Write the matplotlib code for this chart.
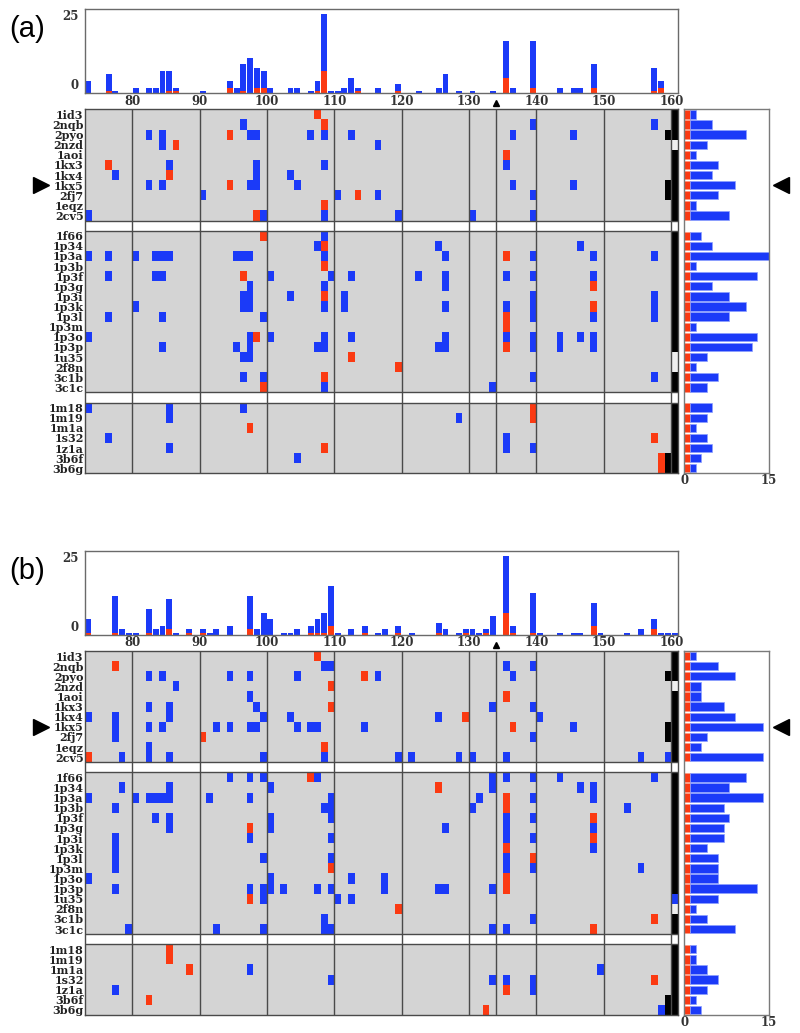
import matplotlib
matplotlib.use('Agg')
import matplotlib.pyplot as plt
import numpy as np
from matplotlib.colors import ListedColormap, BoundaryNorm
from matplotlib import transforms
from matplotlib.lines import Line2D

BLUE = '#1b3af8'
RED = '#fb3a12'
GRAY = '#d4d4d4'
GRID = '#4a4a4a'
LIGHT = '#eeeeee'
FONT = 'DejaVu Serif'

SEC1 = ['1id3', '2nqb', '2pyo', '2nzd', '1aoi', '1kx3', '1kx4', '1kx5', '2fj7', '1eqz', '2cv5']
SEC2 = ['1f66', '1p34', '1p3a', '1p3b', '1p3f', '1p3g', '1p3i', '1p3k', '1p3l', '1p3m',
        '1p3o', '1p3p', '1u35', '2f8n', '3c1b', '3c1c']
SEC3 = ['1m18', '1m19', '1m1a', '1s32', '1z1a', '3b6f', '3b6g']
MARKED_ROW = '1kx5'

RES_START, RES_END = 73, 161
TICKS = [80, 90, 100, 110, 120, 130, 140, 150, 160]
MARK_RES = 134

# ---------------- panel (a) ----------------
a_top_res = [73, 76, 77, 80, 82, 83, 84, 85, 86, 90, 94, 95, 96, 97, 98, 99, 100, 103, 104, 106,
             107, 108, 109, 110, 111, 112, 113, 116, 119, 122, 125, 126, 128, 130, 133, 135, 136,
             139, 143, 145, 146, 148, 157, 158]
a_top_total = [4, 6, 1, 2, 2, 2, 7, 7, 2, 1, 4, 2, 9, 11, 8, 7, 2, 2, 2, 1,
               4, 24, 1, 1, 2, 5, 2, 2, 3, 1, 2, 6, 1, 1, 1, 16, 2,
               16, 2, 2, 2, 9, 8, 4]
a_top_red = [0, 1, 0, 0, 0, 0, 0, 1, 1, 0, 2, 0, 1, 0, 2, 2, 0, 0, 0, 0,
             1, 7, 0, 0, 0, 0, 1, 0, 1, 0, 0, 0, 0, 0, 0, 5, 0,
             2, 0, 0, 0, 2, 1, 2]

a_blue = [
    [], [96, 139, 157], [82, 84, 97, 98, 106, 108, 112, 136, 145], [84, 116], [],
    [85, 98, 108, 135], [77, 98, 103], [82, 84, 97, 98, 104, 136, 145], [90, 110, 116, 139], [],
    [73, 99, 108, 119, 130, 139],
    [108], [107, 125, 146], [73, 76, 80, 83, 84, 85, 95, 96, 97, 108, 126, 139, 148, 157], [],
    [76, 83, 84, 100, 109, 112, 122, 126, 135, 139, 148], [97, 108, 126],
    [96, 97, 103, 111, 139, 157], [80, 96, 97, 108, 111, 126, 135, 139, 157],
    [76, 84, 99, 139, 148, 157], [], [73, 97, 100, 108, 112, 126, 135, 139, 143, 146, 148],
    [84, 95, 97, 107, 108, 125, 126, 139, 143, 148], [96, 97], [], [96, 99, 139, 157], [108, 133],
    [73, 85, 96], [85, 128], [], [76, 135], [85, 135, 139], [104], [],
]
a_red = [
    [107], [108], [94], [86], [135], [76], [85], [94], [113], [108], [98],
    [99], [108], [135], [108], [96], [148], [108], [148], [135], [135], [98], [135], [112], [119],
    [108], [99],
    [139], [139], [97], [157], [108], [158], [158],
]
a_black = [1, 1, 2, 0, 1, 1, 1, 2, 2, 1, 1,
           1, 1, 1, 1, 1, 1, 1, 1, 1, 1, 1, 1, 0, 0, 1, 1,
           1, 1, 1, 1, 1, 2, 2]
a_side_total = [2, 5, 11, 4, 2, 6, 5, 9, 6, 2, 8,
                3, 5, 16, 2, 13, 5, 8, 11, 8, 2, 13, 12, 4, 2, 6, 4,
                5, 4, 2, 4, 5, 3, 2]
a_side_red = [1] * 34

# ---------------- panel (b) ----------------
b_top_res = [73, 77, 78, 79, 80, 82, 83, 84, 85, 86, 88, 90, 91, 92, 94, 97, 98, 99, 100, 102,
             103, 104, 106, 107, 108, 109, 110, 112, 114, 116, 117, 119, 121, 125, 126, 128, 129,
             130, 131, 132, 133, 135, 136, 139, 140, 143, 145, 146, 148, 149, 153, 155, 157, 158,
             159, 160]
b_top_total = [5, 12, 2, 1, 1, 8, 2, 3, 11, 1, 2, 2, 1, 2, 3, 12, 2, 7, 5, 1,
               1, 2, 3, 5, 7, 15, 1, 2, 3, 1, 2, 3, 1, 4, 2, 1, 2,
               2, 1, 2, 6, 24, 3, 13, 1, 1, 1, 1, 10, 1, 1, 2, 5, 1,
               1, 1]
b_top_red = [1, 1, 0, 0, 0, 1, 0, 0, 2, 0, 1, 1, 0, 0, 0, 2, 0, 0, 0, 0,
             0, 0, 1, 1, 1, 3, 0, 0, 1, 0, 0, 1, 0, 1, 0, 0, 1,
             0, 0, 1, 0, 7, 1, 1, 0, 0, 0, 0, 3, 0, 0, 0, 2, 0,
             0, 0]

b_blue = [
    [], [108, 109, 135, 139], [82, 84, 94, 97, 104, 116, 136], [86], [97],
    [82, 85, 98, 133, 139], [73, 77, 85, 99, 103, 125, 140],
    [77, 82, 84, 92, 94, 97, 98, 104, 106, 107, 114, 145], [77, 139], [82],
    [78, 82, 85, 99, 108, 119, 121, 128, 130, 135, 155, 159],
    [94, 97, 99, 107, 133, 135, 139, 143, 157], [78, 85, 100, 133, 146, 148],
    [73, 80, 82, 83, 84, 85, 91, 97, 109, 131, 139, 148], [77, 108, 109, 130, 153],
    [83, 85, 100, 109, 135, 139], [85, 100, 126, 135, 148], [77, 97, 109, 135, 139], [77, 148],
    [77, 99, 109, 135], [77, 135, 139, 155], [73, 100, 112, 117],
    [77, 97, 99, 100, 102, 107, 109, 117, 125, 126, 133], [99, 110, 112, 160], [], [108, 139],
    [79, 92, 99, 108, 109, 133, 135],
    [], [], [97, 149], [109, 133, 135, 139], [77, 139], [], [158],
]
b_red = [
    [107], [77], [114], [109], [135], [109], [129], [136], [90], [108], [73],
    [106], [125], [135], [135], [148], [97], [148], [135], [139], [109], [135], [135], [97], [119],
    [157], [148],
    [85], [85], [88], [157], [135], [82], [132],
]
b_black = [1, 1, 2, 0, 1, 1, 1, 2, 2, 1, 1,
           1, 1, 1, 1, 1, 1, 1, 1, 1, 1, 1, 1, 1, 0, 1, 1,
           1, 1, 1, 1, 1, 2, 2]
b_side_total = [2, 6, 9, 3, 3, 7, 9, 14, 4, 3, 14,
                11, 8, 14, 7, 8, 7, 7, 4, 6, 6, 6, 13, 6, 2, 4, 9,
                2, 2, 4, 6, 4, 2, 3]
b_side_red = [1] * 34

# ---------------- layout helpers ----------------
W, H = 800, 1033
fig = plt.figure(figsize=(W / 100, H / 100), dpi=100)

NAMES = SEC1 + [None] + SEC2 + [None] + SEC3
NROWS = len(NAMES)
DATA_ROWS = [i for i, n in enumerate(NAMES) if n is not None]
GAP_ROWS = [i for i, n in enumerate(NAMES) if n is None]


def rect(x0, y0, x1, y1):
    return [x0 / W, (H - y1) / H, (x1 - x0) / W, (y1 - y0) / H]


cmap = ListedColormap([GRAY, BLUE, RED, 'black', LIGHT, 'white'])
norm = BoundaryNorm(np.arange(-0.5, 6.5, 1), cmap.N)


def draw_panel(dy, label, top_res, top_total, top_red, blue, red, black, side_total, side_red):
    # ---- top histogram ----
    axh = fig.add_axes(rect(85, 9.3 + dy, 678, 93.3 + dy))
    tr = np.array(top_res) + 0.5
    tt = np.array(top_total)
    trd = np.array(top_red)
    axh.bar(tr, trd, width=0.88, color=RED, linewidth=0)
    axh.bar(tr, tt - trd, bottom=trd, width=0.88, color=BLUE, linewidth=0)
    axh.set_xlim(RES_START, RES_END)
    axh.set_ylim(0.3, 25.5)
    axh.set_xticks([])
    axh.set_yticks([])
    for s in axh.spines.values():
        s.set_color('#6a6a6a')
        s.set_linewidth(1)
    axh.text(-0.011, 0.912, '25', transform=axh.transAxes, ha='right', va='center',
             fontsize=8.5, fontweight='bold', family=FONT, color='#333333')
    axh.text(-0.011, 0.087, '0', transform=axh.transAxes, ha='right', va='center',
             fontsize=8.5, fontweight='bold', family=FONT, color='#333333')

    # ---- matrix ----
    axm = fig.add_axes(rect(85, 109.3 + dy, 678, 473.3 + dy))
    ncol = RES_END - RES_START
    M = np.zeros((NROWS, ncol))
    for g in GAP_ROWS:
        M[g, :] = 5
    for k, r in enumerate(DATA_ROWS):
        last = 160 - RES_START
        if black[k] == 0:
            M[r, last] = 4
        elif black[k] == 1:
            M[r, last] = 3
        else:
            M[r, last] = 3
            M[r, last - 1] = 3
        for c in blue[k]:
            M[r, c - RES_START] = 1
        for c in red[k]:
            M[r, c - RES_START] = 2
    axm.pcolormesh(np.arange(RES_START, RES_END + 1), np.arange(NROWS + 1), M,
                   cmap=cmap, norm=norm, shading='flat')
    axm.set_xlim(RES_START, RES_END)
    axm.set_ylim(NROWS, 0)
    for g in TICKS + [MARK_RES]:
        axm.axvline(g, color=GRID, lw=1)
    for g in GAP_ROWS:
        axm.axhline(g, color=GRID, lw=1)
        axm.axhline(g + 1, color=GRID, lw=1)
    for s in axm.spines.values():
        s.set_color(GRID)
        s.set_linewidth(1)
    axm.xaxis.tick_top()
    axm.set_xticks(TICKS)
    axm.set_xticklabels([str(t) for t in TICKS], fontsize=8.5, fontweight='bold',
                        family=FONT, color='#333333')
    axm.tick_params(axis='x', length=0, pad=1.2)
    axm.set_yticks([r + 0.5 for r in DATA_ROWS])
    axm.set_yticklabels([NAMES[r] for r in DATA_ROWS], fontsize=8, fontweight='bold',
                        family=FONT, color='#222222')
    axm.tick_params(axis='y', length=0, pad=1.0)
    # small marker above residue 134
    bt = transforms.blended_transform_factory(axm.transData, axm.transAxes)
    axm.plot([MARK_RES], [1.0175], marker='^', ms=5, color='black', transform=bt,
             clip_on=False, linestyle='none')
    # big triangles on the marked row
    yrow = DATA_ROWS[(SEC1 + SEC2 + SEC3).index(MARKED_ROW)] + 0.5
    ft = transforms.blended_transform_factory(fig.transFigure, axm.transData)
    fig.add_artist(Line2D([41 / W], [yrow], marker='>', ms=12, color='black',
                          transform=ft, linestyle='none'))
    fig.add_artist(Line2D([781 / W], [yrow], marker='<', ms=12, color='black',
                          transform=ft, linestyle='none'))

    # ---- side bars ----
    axs = fig.add_axes(rect(684.3, 109.3 + dy, 769.3, 473.3 + dy))
    ys = np.array(DATA_ROWS) + 0.5
    st = np.array(side_total)
    sr = np.array(side_red)
    axs.barh(ys, sr, height=0.82, color=RED, edgecolor='#ff9a80', linewidth=0.4)
    axs.barh(ys, st - sr, left=sr, height=0.82, color=BLUE, edgecolor='#8ca0ff', linewidth=0.5)
    axs.set_ylim(NROWS, 0)
    axs.set_xlim(0, 15.15)
    axs.set_yticks([])
    axs.set_xticks([0, 15])
    axs.set_xticklabels(['0', '15'], fontsize=8.5, fontweight='bold', family=FONT, color='#333333')
    axs.tick_params(axis='x', length=0, pad=0.5)
    for s in axs.spines.values():
        s.set_color('#7a7a7a')
        s.set_linewidth(1)

    fig.text(27 / W, 1 - (29 + dy) / H, label, fontsize=21, family='Liberation Sans',
             ha='center', va='center')


draw_panel(0, '(a)', a_top_res, a_top_total, a_top_red, a_blue, a_red, a_black,
           a_side_total, a_side_red)
draw_panel(541.7, '(b)', b_top_res, b_top_total, b_top_red, b_blue, b_red, b_black,
           b_side_total, b_side_red)

fig.savefig('out.png', dpi=100)
